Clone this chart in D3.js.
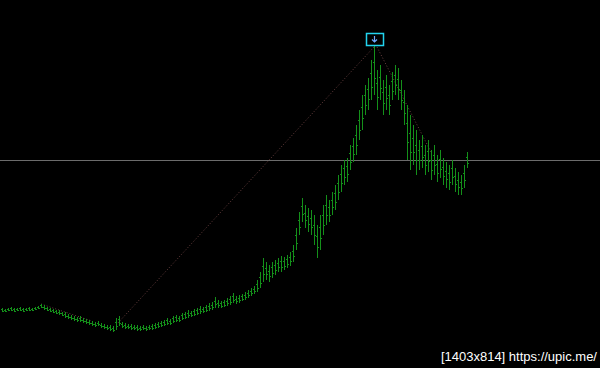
<!DOCTYPE html>
<html><head><meta charset="utf-8">
<script src="https://cdn.jsdelivr.net/npm/d3@7"></script>
<style>html,body{margin:0;padding:0;background:#000;overflow:hidden}</style>
</head><body>
<div id="chart"></div>
<script>
// bar index -> high/low price levels (arbitrary price units)
const barIndex = d3.range(156);
const highs = [60,59,60,61,60,60,61,60,60,61,60,61,62,64,63,61,60,59,58,58,56,56,54,53,52,51,52,50,49,48,47,46,47,45,44,43,43,42,50,52,
  46,45,44,44,43,43,42,43,42,43,44,45,46,47,48,50,49,52,53,52,55,56,58,57,59,60,62,61,63,65,66,71,68,67,68,70,72,75,72,73,
  74,76,78,80,82,88,96,110,106,103,106,108,110,112,111,113,116,123,140,156,170,163,160,158,153,143,153,163,173,168,176,183,193,203,208,210,223,230,243,258,
  273,283,290,308,323,298,303,288,293,283,296,303,300,288,278,263,253,243,238,228,233,223,228,218,223,213,218,210,206,203,208,200,196,193,203,216];
const lows = [56,56,57,57,56,57,57,56,57,57,57,58,59,60,58,57,56,55,54,53,52,50,49,48,47,46,46,45,44,43,42,41,42,40,39,38,37,36,38,42,
  40,39,39,38,38,37,37,38,37,38,38,39,40,41,42,43,43,45,46,46,48,49,50,51,52,53,54,55,56,57,58,60,60,60,61,62,63,65,64,65,
  67,68,70,72,74,76,80,86,88,86,90,93,96,96,98,100,102,106,118,133,146,140,136,133,123,110,118,133,143,146,153,158,168,176,183,186,198,206,213,228,
  238,253,258,268,273,258,268,253,258,253,268,273,268,258,243,208,198,203,193,198,200,193,196,188,193,186,190,183,180,178,183,176,173,173,180,200];
const refLevel = [208];
const trendA = [{bar: 38, price: 43}, {bar: 124, price: 321}];
const trendB = [{bar: 125, price: 321}, {bar: 143, price: 216}];
const trendC = [{bar: 13, price: 64}, {bar: 30, price: 47}];
const peakBar = [124];
const caption = ["[1403x814] https://upic.me/"];

const W = 600, H = 368;
const svg = d3.select("#chart").append("svg").attr("width", W).attr("height", H)
  .style("background", "#000").style("display", "block");
svg.append("rect").attr("width", W).attr("height", H).attr("fill", "#000");

const x = d3.scaleLinear().domain([0, 155]).range([2, 467]);
const y = d3.scaleLinear().domain([0, 368]).range([368, 0]);

// horizontal level line
svg.append("line").attr("x1", 0).attr("x2", W)
  .attr("y1", y(refLevel[0]) + 0.5).attr("y2", y(refLevel[0]) + 0.5)
  .attr("stroke", "#6c6c6c").attr("stroke-width", 1);

// dotted trend lines
[trendA, trendB, trendC].forEach(t => {
  svg.append("line")
    .attr("x1", x(t[0].bar)).attr("y1", y(t[0].price))
    .attr("x2", x(t[1].bar)).attr("y2", y(t[1].price))
    .attr("stroke", "#6a4040").attr("stroke-width", 1).attr("stroke-dasharray", "1,2");
});

// bars
const green = "#14901a";
const g = svg.append("g");
g.selectAll("line.hl").data(barIndex).join("line").attr("class", "hl")
  .attr("x1", i => Math.round(x(i)) + 0.5).attr("x2", i => Math.round(x(i)) + 0.5)
  .attr("y1", i => y(highs[i])).attr("y2", i => y(lows[i]))
  .attr("stroke", green).attr("stroke-width", 1);
g.selectAll("line.op").data(barIndex).join("line").attr("class", "op")
  .attr("x1", i => Math.round(x(i)) - 1).attr("x2", i => Math.round(x(i)) + 0.5)
  .attr("y1", i => Math.round(y((highs[i] * 2 + lows[i]) / 3)) + 0.5)
  .attr("y2", i => Math.round(y((highs[i] * 2 + lows[i]) / 3)) + 0.5)
  .attr("stroke", green).attr("stroke-width", 1);
g.selectAll("line.cl").data(barIndex).join("line").attr("class", "cl")
  .attr("x1", i => Math.round(x(i)) + 0.5).attr("x2", i => Math.round(x(i)) + 2)
  .attr("y1", i => Math.round(y((highs[i] + lows[i] * 2) / 3)) + 0.5)
  .attr("y2", i => Math.round(y((highs[i] + lows[i] * 2) / 3)) + 0.5)
  .attr("stroke", green).attr("stroke-width", 1);

// peak marker
const px = Math.round(x(peakBar[0])), py = y(highs[peakBar[0]]);
svg.append("rect").attr("x", px - 7.5).attr("y", py - 11.5).attr("width", 17).attr("height", 12)
  .attr("fill", "none").attr("stroke", "#22d3ee").attr("stroke-width", 1.5);
svg.append("path")
  .attr("d", `M${px+0.5},${py-9} L${px+0.5},${py-3} M${px-2},${py-5.5} L${px+0.5},${py-3} L${px+3},${py-5.5}`)
  .attr("stroke", "#6fa8ff").attr("stroke-width", 1.2).attr("fill", "none");

svg.append("text").attr("x", 597).attr("y", 361).attr("text-anchor", "end")
  .attr("fill", "#ffffff").attr("font-family", "Liberation Sans, Arial, sans-serif")
  .attr("font-size", 13).text(caption[0]);
</script>
</body></html>
